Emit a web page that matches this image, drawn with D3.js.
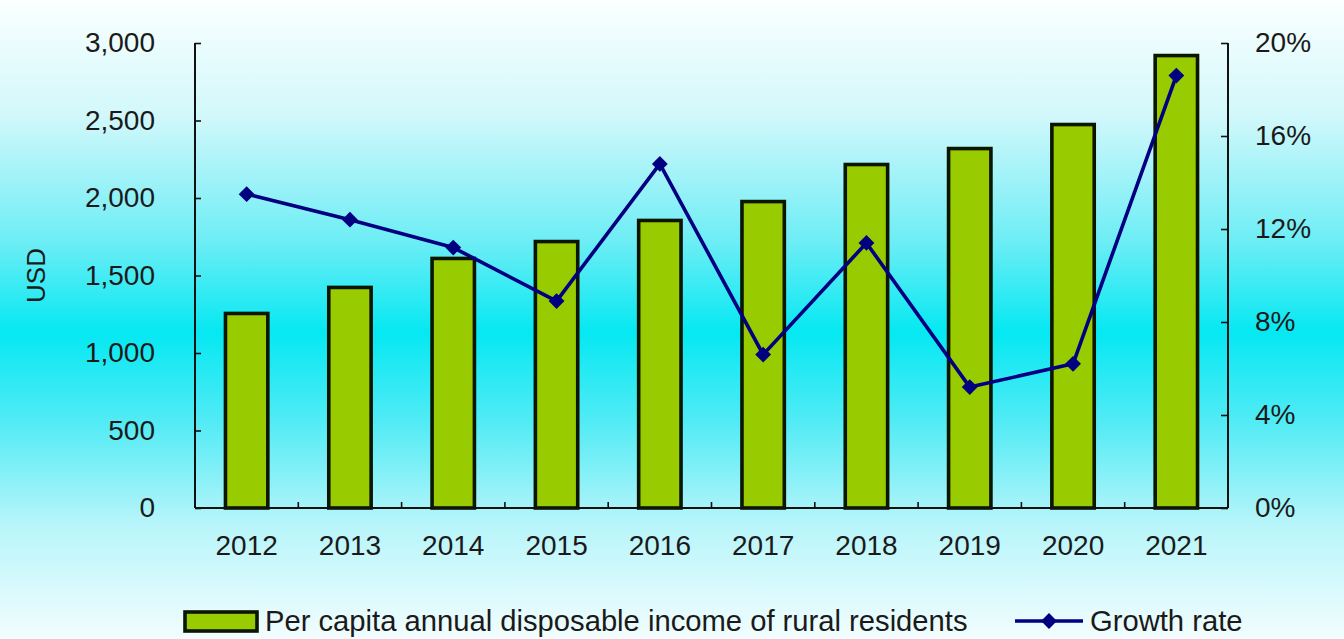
<!DOCTYPE html>
<html>
<head>
<meta charset="utf-8">
<script src="https://cdn.jsdelivr.net/npm/d3@7"></script>
<style>
  html, body { margin: 0; padding: 0; background: #ffffff; }
  svg { display: block; font-family: "Liberation Sans", Arial, sans-serif; }
</style>
</head>
<body>
<svg id="chart" width="1344" height="639"></svg>
<script>
// Rural per capita disposable income (USD) and its annual growth rate (%)
const years = ["2012", "2013", "2014", "2015", "2016", "2017", "2018", "2019", "2020", "2021"];
const income = [1255, 1423, 1610, 1719, 1855, 1977, 2216, 2319, 2474, 2919];
const growth = [13.5, 12.4, 11.2, 8.9, 14.8, 6.6, 11.4, 5.2, 6.2, 18.6];
const incomeTicks = [0, 500, 1000, 1500, 2000, 2500, 3000];
const growthTicks = [0, 4, 8, 12, 16, 20];
const barLabel = "Per capita annual disposable income of rural residents";
const lineLabel = "Growth rate";
const yTitle = "USD";

const W = 1344, H = 639;
const margin = { left: 195, right: W - 1228, top: 43, bottom: H - 508 };

const svg = d3.select("#chart");

// Background: vertical white -> cyan -> white wash
const defs = svg.append("defs");
const grad = defs.append("linearGradient")
  .attr("id", "bg").attr("x1", 0).attr("y1", 0).attr("x2", 0).attr("y2", 1);
[["0%", "#fbffff"], ["18%", "#d2f8fb"], ["38%", "#6cedf5"], ["52%", "#05e8f2"],
 ["66%", "#52ebf5"], ["82%", "#b7f5fa"], ["100%", "#f2fdfe"]]
  .forEach(([o, c]) => grad.append("stop").attr("offset", o).attr("stop-color", c));
svg.append("rect").attr("width", W).attr("height", H).attr("fill", "url(#bg)");

const x = d3.scaleBand().domain(years)
  .range([margin.left, W - margin.right]).paddingInner(0.59).paddingOuter(0.295);
const band = d3.scaleBand().domain(years).range([margin.left, W - margin.right]);
const yL = d3.scaleLinear().domain([0, 3000]).range([H - margin.bottom, margin.top]);
const yR = d3.scaleLinear().domain([0, 20]).range([H - margin.bottom, margin.top]);

const textColor = "#1a1a1a";
const fontSize = 28;

// Bars
svg.append("g").selectAll("rect").data(years).join("rect")
  .attr("x", d => x(d))
  .attr("width", x.bandwidth())
  .attr("y", (d, i) => yL(income[i]))
  .attr("height", (d, i) => yL(0) - yL(income[i]))
  .attr("fill", "#99cc00")
  .attr("stroke", "#0b1500")
  .attr("stroke-width", 3.6);

// Left axis
const axL = svg.append("g").attr("transform", `translate(${margin.left},0)`)
  .call(d3.axisLeft(yL).tickValues(incomeTicks).tickSize(-6).tickPadding(40)
    .tickFormat(d3.format(",")));
// Right axis
const axR = svg.append("g").attr("transform", `translate(${W - margin.right},0)`)
  .call(d3.axisRight(yR).tickValues(growthTicks).tickSize(-7).tickPadding(27)
    .tickFormat(d => d + "%"));
// Bottom axis: ticks sit on category boundaries
const axB = svg.append("g").attr("transform", `translate(0,${H - margin.bottom})`)
  .call(d3.axisBottom(band).tickSize(0).tickPadding(20));
axB.selectAll(".tick line").remove();
axB.append("g").selectAll("line").data(years.slice(1)).join("line")
  .attr("x1", d => band(d)).attr("x2", d => band(d))
  .attr("y1", 0).attr("y2", -6)
  .attr("stroke", "#111").attr("stroke-width", 1.6);

[axL, axR, axB].forEach(ax => {
  ax.select(".domain").attr("stroke", "#111").attr("stroke-width", 2);
  ax.selectAll(".tick line").attr("stroke", "#111").attr("stroke-width", 1.6);
  ax.selectAll(".tick text")
    .attr("fill", textColor)
    .attr("font-size", fontSize)
    .attr("font-family", "Liberation Sans, Arial, sans-serif");
});
axL.select(".domain").attr("d", `M0,${yL(3000)}V${yL(0)}`);
axR.select(".domain").attr("d", `M0,${yR(20)}V${yR(0)}`);
axB.select(".domain").attr("d", `M${margin.left},0H${W - margin.right}`);
axB.selectAll(".tick text").attr("dy", "0.95em");

// Y axis title
svg.append("text")
  .attr("transform", `translate(45,${(yL(0) + yL(3000)) / 2}) rotate(-90)`)
  .attr("text-anchor", "middle")
  .attr("fill", textColor)
  .attr("font-size", 26)
  .text(yTitle);

// Growth line with diamond markers
const cx = d => band(d) + band.bandwidth() / 2;
const line = d3.line().x((d, i) => cx(years[i])).y(d => yR(d));
svg.append("path").datum(growth)
  .attr("d", line)
  .attr("fill", "none")
  .attr("stroke", "#000080")
  .attr("stroke-width", 3.6)
  .attr("stroke-linejoin", "round");

const diamond = d3.symbol().type(d3.symbolDiamond2).size(160);
svg.append("g").selectAll("path").data(growth).join("path")
  .attr("transform", (d, i) => `translate(${cx(years[i])},${yR(d)})`)
  .attr("d", diamond)
  .attr("fill", "#000080");

// Legend
const legendFont = 29.2;
const lg = svg.append("g");
lg.append("rect")
  .attr("x", 185).attr("y", 612).attr("width", 72).attr("height", 19)
  .attr("fill", "#99cc00").attr("stroke", "#0b1500").attr("stroke-width", 3.6);
lg.append("text")
  .attr("x", 265).attr("y", 631)
  .attr("fill", textColor).attr("font-size", legendFont)
  .text(barLabel);
lg.append("line")
  .attr("x1", 1015).attr("x2", 1083).attr("y1", 621).attr("y2", 621)
  .attr("stroke", "#000080").attr("stroke-width", 3.6);
lg.append("path")
  .attr("transform", "translate(1049,621)")
  .attr("d", diamond)
  .attr("fill", "#000080");
lg.append("text")
  .attr("x", 1090).attr("y", 631)
  .attr("fill", textColor).attr("font-size", legendFont)
  .text(lineLabel);
</script>
</body>
</html>
